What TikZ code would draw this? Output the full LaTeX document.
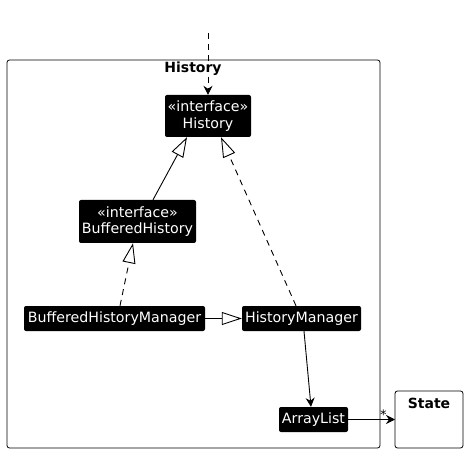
\documentclass[tikz,border=0pt]{standalone}
\usepackage{fontspec}
\setmainfont{DejaVu Sans}
\usetikzlibrary{arrows.meta}
\begin{document}
\begin{tikzpicture}[x=1pt,y=-1pt,
  cls/.style={fill=black,text=white,rounded corners=2pt,inner sep=0pt,align=center,font=\fontsize{14.2}{16.5}\selectfont},
  frame/.style={draw,line width=0.8pt,rounded corners=2.5pt},
  ttl/.style={font=\bfseries\fontsize{14}{16}\selectfont},
  line/.style={line width=0.9pt},
  inh/.style={line,-{Triangle[open,length=20pt,width=13pt]}},
  dep/.style={line,-{Stealth[length=9pt,width=9pt,inset=3pt]}}]
\useasboundingbox (0,0) rectangle (468,454);
% package frame
\draw[frame] (7,60) rectangle (380,448);
\node[ttl] (ptitle) at (193,69) {History};
% State
\draw[frame] (395,391) rectangle (463,448);
\node[ttl] (stitle) at (429,403) {State};
\coordinate (stateL) at (395,419.5);
% classes
\node[cls,minimum width=86pt,minimum height=42pt] (hist) at (208,116) {«interface»\\History};
\node[cls,minimum width=117pt,minimum height=43pt] (bh) at (137.5,221.5) {«interface»\\BufferedHistory};
\node[cls,minimum width=181pt,minimum height=25pt] (bhm) at (114.5,318.5) {BufferedHistoryManager};
\node[cls,minimum width=119pt,minimum height=25pt] (hm) at (301.5,318.5) {HistoryManager};
\node[cls,minimum width=69pt,minimum height=25pt] (al) at (313.5,419.5) {ArrayList};
\coordinate (top) at (208,33);
% connectors
\draw[dep,dash pattern=on 6pt off 5pt] (top) -- (hist.north);
\draw[inh] (bh.north -| 153,0) -- (hist.south -| 187,0);
\draw[inh,dash pattern=on 6pt off 5pt] (hm.north -| 296,0) -- (hist.south -| 221,0);
\draw[inh,dash pattern=on 6pt off 5pt] (bhm.north -| 120,0) -- (bh.south -| 133,0);
\draw[inh] (bhm.east) -- (hm.west);
\draw[dep] (hm.south -| 304,0) -- (al.north -| 311,0);
\draw[dep] (al.east) -- (stateL) node[pos=0.75,above,yshift=-4pt,font=\fontsize{13}{13}\selectfont] {*};
\end{tikzpicture}
\end{document}
